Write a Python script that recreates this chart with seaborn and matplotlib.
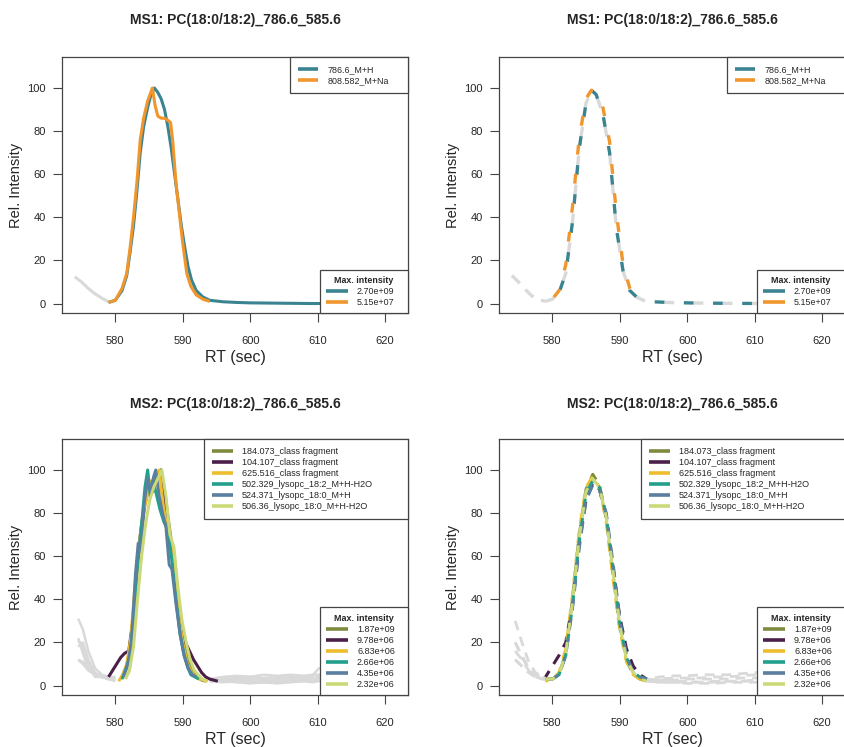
import numpy as np
import pandas as pd
import matplotlib
matplotlib.use("Agg")
import matplotlib.pyplot as plt
from matplotlib.lines import Line2D
import seaborn as sns

sns.set_theme(style="white")
plt.rcParams["font.family"] = ["Liberation Sans", "DejaVu Sans"]
plt.rcParams["lines.scale_dashes"] = False
plt.rcParams["lines.solid_capstyle"] = "butt"
plt.rcParams["lines.dash_capstyle"] = "butt"

TITLE_MS1 = "MS1: PC(18:0/18:2)_786.6_585.6"
TITLE_MS2 = "MS2: PC(18:0/18:2)_786.6_585.6"
X_TICKS = [580, 590, 600, 610, 620]
Y_TICKS = [0, 20, 40, 60, 80, 100]

# ---------------- MS1 ----------------
ms1_names = ["786.6_M+H", "808.582_M+Na"]
ms1_max = ["2.70e+09", "5.15e+07"]
ms1_colors = ["#3a8390", "#f0962c"]

# raw traces (peak region)
ms1_raw_rt = [
    [579.0, 580.0, 581.0, 581.7, 582.2, 582.7, 583.2, 583.7, 584.2, 584.8, 585.3, 585.8, 586.3, 586.8,
     587.3, 587.8, 588.3, 588.8, 589.3, 589.8, 590.3, 590.8, 591.3, 592.0, 593.0, 594.0, 596.0, 598.0,
     600.0, 603.0, 606.0, 609.0, 611.0],
    [579.0, 580.0, 581.0, 581.7, 582.2, 582.7, 583.2, 583.7, 584.2, 584.8, 585.5, 585.9, 586.3, 586.8,
     587.3, 587.8, 588.2, 588.5, 589.0, 589.6, 590.0, 590.6, 591.2, 592.0, 593.0, 594.0],
]
ms1_raw_int = [
    [0.5, 1.5, 6, 13, 24, 36, 52, 70, 82, 91, 97, 100, 98, 95, 90, 82, 72, 60, 48, 36, 26, 17, 11,
     6, 3, 1.5, 0.8, 0.5, 0.3, 0.2, 0.1, 0.0, 0.0],
    [0.5, 1.5, 7, 14, 26, 40, 56, 76, 86, 94, 100, 92, 87, 86, 86, 85, 84, 76, 56, 39, 28, 14, 8,
     4, 2, 1],
]
ms1_raw_grey_rt = [574.0, 575.0, 576.0, 577.0, 578.0, 579.0]
ms1_raw_grey_int = [12.4, 10.0, 7.0, 4.5, 2.5, 0.8]

# smoothed traces
ms1_sm_rt = [
    [579.0, 580.0, 581.0, 582.0, 583.0, 584.0, 585.0, 585.8, 586.5, 587.5, 588.5, 589.5, 590.5, 591.5,
     592.5, 593.5, 595.0, 598.0, 602.0, 606.0, 611.0],
    [579.0, 580.0, 581.0, 582.0, 583.0, 584.0, 585.0, 585.8, 586.5, 587.5, 588.5, 589.5, 590.5, 591.5,
     592.5, 593.5],
]
ms1_sm_int = [
    [1, 2, 5, 14, 38, 72, 93, 99, 97, 88, 70, 35, 15, 6, 3, 1.5, 0.8, 0.4, 0.2, 0.1, 0.0],
    [1, 2, 6, 18, 45, 77, 95, 99, 98, 91, 75, 42, 18, 7, 3, 1.5],
]
ms1_sm_grey_rt = [574.0, 575.0, 576.0, 577.0, 578.0, 579.0]
ms1_sm_grey_int = [13, 10, 6.5, 3.5, 1.8, 1.0]

# ---------------- MS2 ----------------
ms2_names = ["184.073_class fragment", "104.107_class fragment", "625.516_class fragment",
             "502.329_lysopc_18:2_M+H-H2O", "524.371_lysopc_18:0_M+H", "506.36_lysopc_18:0_M+H-H2O"]
ms2_max = ["1.87e+09", "9.78e+06", "6.83e+06", "2.66e+06", "4.35e+06", "2.32e+06"]
ms2_colors = ["#7d8b3e", "#4a1f48", "#eebd2e", "#22a08c", "#5a7fa0", "#cbd978"]

ms2_raw_rt = [
    [580.8, 581.4, 582.0, 582.6, 583.2, 583.8, 584.4, 585.0, 585.6, 586.2, 586.8, 587.4, 588.0, 588.6,
     589.2, 589.8, 590.4, 591.0, 591.6, 592.2, 592.8, 593.4],
    [579.0, 579.6, 580.2, 580.8, 581.4, 582.0, 582.6, 583.2, 583.8, 584.4, 585.0, 585.6, 586.2, 586.8,
     587.4, 588.0, 588.6, 589.2, 589.8, 590.4, 591.0, 591.6, 592.2, 592.8, 593.4, 594.0, 594.6, 595.2],
    [580.5, 581.1, 581.7, 582.3, 582.9, 583.5, 584.1, 584.7, 585.3, 585.9, 586.5, 587.1, 587.7, 588.3,
     588.9, 589.5, 590.1, 590.7, 591.3, 591.9, 592.5, 593.1, 593.7],
    [581.0, 581.6, 582.2, 582.8, 583.4, 584.0, 584.4, 584.8, 585.2, 585.6, 586.0, 586.6, 587.2, 587.8,
     588.4, 589.0, 589.6, 590.2, 590.8, 591.2, 591.8, 592.4],
    [581.2, 581.8, 582.4, 583.0, 583.4, 583.8, 584.3, 584.8, 585.2, 585.7, 586.0, 586.5, 587.0, 587.5,
     588.0, 588.4, 589.0, 589.6, 590.2, 590.8, 591.4, 592.0],
    [581.5, 582.1, 582.7, 583.3, 583.9, 584.5, 585.1, 585.7, 586.3, 586.9, 587.5, 588.1, 588.7, 589.3,
     589.9, 590.5, 591.1, 591.7, 592.3, 592.9, 593.5],
]
ms2_raw_int = [
    [3, 6, 13, 30, 52, 70, 84, 92, 95, 97, 100, 88, 74, 60, 42, 26, 17, 10, 6, 4, 2.5, 2],
    [4, 7, 10, 13, 15, 16, 30, 55, 72, 86, 94, 90, 97, 100, 84, 70, 57, 40, 26, 20, 16, 12, 9, 6,
     4, 3, 2.5, 2],
    [2, 5, 10, 22, 45, 65, 80, 88, 95, 92, 100, 84, 72, 66, 48, 30, 18, 10, 6, 4, 3, 2.5, 2],
    [3, 8, 14, 35, 60, 78, 92, 100, 88, 95, 90, 82, 76, 72, 58, 40, 24, 14, 8, 5, 4, 3],
    [4, 9, 20, 52, 66, 62, 85, 96, 90, 97, 100, 88, 80, 74, 56, 54, 38, 24, 14, 8, 5, 4],
    [3, 7, 18, 40, 60, 75, 86, 92, 96, 100, 88, 70, 64, 45, 30, 20, 12, 7, 5, 3, 2],
]
# grey background traces outside the peak window
ms2_raw_left_rt = [574.5, 575.2, 576.0, 577.0, 578.0, 579.0, 580.0]
ms2_raw_left_int = [
    [31, 26, 16, 8, 5, 4, 3],
    [12, 10, 7, 5, 4, 4, 4],
    [21, 18, 10, 5, 4, 3, 2],
    [18, 20, 12, 6, 4, 3, 3],
    [12, 11, 9, 4, 4, 3, 4],
    [22, 15, 8, 5, 4, 3, 3],
]
ms2_raw_right_rt = [594.0, 596.0, 598.0, 600.0, 602.0, 604.0, 606.0, 608.0, 609.2, 610.2, 614.0, 618.0]
ms2_raw_right_int = [
    [2, 3, 4, 4, 3.5, 4, 4.5, 4, 4.5, 8, 6, 5],
    [3, 2, 2.5, 2, 1.5, 2, 2.5, 2, 2.5, 3, 3, 3],
    [2, 1.5, 2, 1.5, 1.5, 2, 2, 2.5, 2, 2.5, 2, 2],
    [3, 4, 4.5, 4, 5, 4.5, 5, 4.5, 5, 5, 5, 5],
    [3, 2.5, 3, 3, 2.5, 3, 3.5, 3, 3.5, 4, 4, 4],
    [2, 2, 1.5, 1, 1.5, 1, 1.5, 2, 1.5, 2, 2, 2],
]

ms2_sm_rt = [579.0, 580.0, 581.0, 582.0, 583.0, 584.0, 585.0, 586.0, 587.0, 588.0, 589.0, 590.0,
             591.0, 592.0, 593.0, 594.0]
ms2_sm_int = [
    [3, 3, 5, 15, 40, 70, 91, 98, 93, 78, 52, 27, 12, 5, 3, 2],
    [4, 9, 14, 20, 38, 66, 86, 94, 91, 78, 55, 32, 17, 9, 5, 3],
    [2, 3, 6, 17, 42, 72, 92, 97, 92, 76, 50, 26, 11, 5, 3, 2],
    [3, 3, 5, 14, 37, 67, 89, 95, 92, 79, 54, 29, 13, 6, 4, 3],
    [3, 3, 5, 14, 36, 64, 86, 93, 91, 80, 57, 31, 14, 6, 4, 3],
    [3, 3, 5, 15, 39, 69, 90, 96, 92, 78, 53, 28, 12, 6, 3, 2],
]
ms2_sm_left_rt = [574.5, 575.5, 576.5, 577.5, 578.5, 579.0]
ms2_sm_left_int = [
    [30, 20, 11, 6, 4, 3],
    [12, 9, 6, 4, 3.5, 4],
    [20, 14, 8, 5, 3, 2],
    [16, 12, 7, 4, 3, 3],
    [12, 9, 6, 4, 3, 3],
    [20, 13, 8, 5, 3.5, 3],
]
ms2_sm_right_rt = [594.0, 596.0, 598.0, 600.0, 602.0, 604.0, 606.0, 608.0, 610.0, 613.0, 618.0]
ms2_sm_right_int = [
    [2, 3, 3.5, 3.5, 3.5, 4, 4, 4.5, 5, 5, 5],
    [3, 2.5, 2, 2, 1.5, 2, 2, 2, 2.5, 3, 3],
    [2, 1.5, 1.5, 1.5, 1.5, 1.5, 2, 2, 2, 2, 2],
    [3, 4, 4.5, 4.5, 5, 5, 5, 5.5, 6, 6, 6],
    [3, 2.5, 2.5, 3, 3, 3, 3, 3.5, 3.5, 4, 4],
    [2, 1.5, 1.5, 1, 1, 1, 1.5, 1.5, 1.5, 2, 2],
]

GREY = "#d9d9d9"
INK = "#262626"
EDGE = "#444444"
XLIM = (572.1, 623.4)
YLIM = (-4.4, 114.4)

fig = plt.figure(figsize=(8.44, 7.47), dpi=100)
W, H = 844, 747
AX_W = 346.0


def make_axes(left, top, right, bottom):
    return fig.add_axes([left / W, 1 - bottom / H, (right - left) / W, (bottom - top) / H])


axes = [
    make_axes(62, 57, 408, 313),
    make_axes(499, 57, 845, 313),
    make_axes(62, 439, 408, 695),
    make_axes(499, 439, 845, 695),
]


def draw_line(ax, rt, val, color, lw=2.2, ls="-"):
    df = pd.DataFrame({"rt": rt, "val": val})
    sns.lineplot(data=df, x="rt", y="val", ax=ax, color=color, linewidth=lw,
                 linestyle=ls, legend=False, estimator=None, sort=True)


def style_axes(ax, title, title_pad):
    ax.set_xlim(*XLIM)
    ax.set_ylim(*YLIM)
    ax.set_xticks(X_TICKS)
    ax.set_yticks(Y_TICKS)
    ax.tick_params(axis="both", direction="out", length=6.5, width=0.8, color=EDGE,
                   labelsize=8, labelcolor=INK, bottom=True, left=True)
    ax.tick_params(axis="x", pad=10)
    ax.tick_params(axis="y", pad=5)
    for sp in ax.spines.values():
        sp.set_visible(True)
        sp.set_color(EDGE)
        sp.set_linewidth(0.9)
    ax.set_xlabel("RT (sec)", fontsize=11.5, color=INK, labelpad=3)
    ax.set_ylabel("Rel. Intensity", fontsize=10.5, color=INK, labelpad=3)
    ax.set_title(title, fontsize=10, fontweight="bold", color=INK, pad=title_pad)
    ax.set_facecolor("white")


def add_legends(ax, names, maxes, colors, fs, top_w):
    handles = [Line2D([0], [0], color=c, lw=2.6, linestyle="-") for c in colors]
    w1 = top_w / AX_W
    leg1 = ax.legend(handles, names, loc="upper left", bbox_to_anchor=(1 - w1, 0, w1, 1),
                     mode="expand", borderaxespad=0, fancybox=False, framealpha=1,
                     edgecolor=EDGE, fontsize=fs, handlelength=2.3, handletextpad=1.0,
                     labelspacing=0.22, borderpad=0.9, labelcolor=INK)
    leg1.get_frame().set_linewidth(0.9)
    ax.add_artist(leg1)
    w2 = 88 / AX_W
    leg2 = ax.legend(handles, maxes, loc="lower left", bbox_to_anchor=(1 - w2, 0, w2, 1),
                     mode="expand", borderaxespad=0, fancybox=False, framealpha=1,
                     edgecolor=EDGE, fontsize=fs, title="Max. intensity", title_fontsize=fs,
                     handlelength=2.4, handletextpad=1.0, labelspacing=0.22,
                     borderpad=0.7, labelcolor=INK)
    leg2.get_title().set_fontweight("bold")
    leg2.get_title().set_color(INK)
    leg2.get_frame().set_linewidth(0.9)


# --- MS1 raw ---
ax = axes[0]
draw_line(ax, ms1_raw_grey_rt, ms1_raw_grey_int, GREY, lw=2.2)
for rt, val, c in zip(ms1_raw_rt, ms1_raw_int, ms1_colors):
    draw_line(ax, rt, val, c, lw=2.2)
style_axes(ax, TITLE_MS1, 23.5)
add_legends(ax, ms1_names, ms1_max, ms1_colors, 6.4, 118)

# --- MS1 smoothed: dashed colours over a dashed grey copy ---
ax = axes[1]
draw_line(ax, ms1_sm_grey_rt, ms1_sm_grey_int, GREY, lw=2.4, ls=(0, (8, 6)))
draw_line(ax, ms1_sm_rt[0], ms1_sm_int[0], GREY, lw=2.4, ls=(0, (7, 14)))
draw_line(ax, ms1_sm_rt[0], ms1_sm_int[0], ms1_colors[0], lw=2.4, ls=(7, (7, 14)))
draw_line(ax, ms1_sm_rt[1], ms1_sm_int[1], ms1_colors[1], lw=2.4, ls=(14, (7, 14)))
style_axes(ax, TITLE_MS1, 23.5)
add_legends(ax, ms1_names, ms1_max, ms1_colors, 6.4, 118)

# --- MS2 raw ---
ax = axes[2]
for i in range(len(ms2_names)):
    draw_line(ax, ms2_raw_left_rt, ms2_raw_left_int[i], GREY, lw=1.8)
    draw_line(ax, ms2_raw_right_rt, ms2_raw_right_int[i], GREY, lw=1.8)
for rt, val, c in zip(ms2_raw_rt, ms2_raw_int, ms2_colors):
    draw_line(ax, rt, val, c, lw=2.2)
style_axes(ax, TITLE_MS2, 22)
add_legends(ax, ms2_names, ms2_max, ms2_colors, 6.5, 204)

# --- MS2 smoothed ---
ax = axes[3]
for i in range(len(ms2_names)):
    draw_line(ax, ms2_sm_left_rt, ms2_sm_left_int[i], GREY, lw=2.0, ls=(0, (7, 5)))
    draw_line(ax, ms2_sm_right_rt, ms2_sm_right_int[i], GREY, lw=2.0, ls=(i * 2, (7, 5)))
for i, (val, c) in enumerate(zip(ms2_sm_int, ms2_colors)):
    draw_line(ax, ms2_sm_rt, val, c, lw=2.2, ls=(i * 3, (8, 6)))
style_axes(ax, TITLE_MS2, 22)
add_legends(ax, ms2_names, ms2_max, ms2_colors, 6.5, 204)

fig.savefig("out.png", dpi=100, facecolor="white")
